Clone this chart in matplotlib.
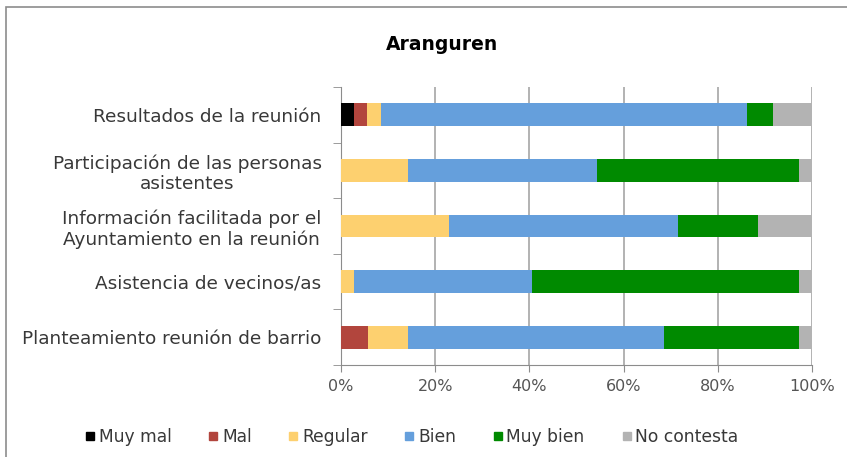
import matplotlib.pyplot as plt
from matplotlib.lines import Line2D
from matplotlib.patches import Rectangle
from matplotlib.ticker import PercentFormatter

# data (percent of answers), top to bottom as shown in the chart
categories = [
    'Resultados de la reunión',
    'Participación de las personas\nasistentes',
    'Información facilitada por el\nAyuntamiento en la reunión',
    'Asistencia de vecinos/as',
    'Planteamiento reunión de barrio',
]
series = ['Muy mal', 'Mal', 'Regular', 'Bien', 'Muy bien', 'No contesta']
muy_mal = [2.8, 0.0, 0.0, 0.0, 0.0]
mal = [2.8, 0.0, 0.0, 0.0, 5.7]
regular = [2.8, 14.3, 22.9, 2.7, 8.6]
bien = [77.8, 40.0, 48.6, 37.8, 54.3]
muy_bien = [5.5, 42.9, 17.1, 56.8, 28.6]
no_contesta = [8.3, 2.8, 11.4, 2.7, 2.8]
colors = ['#000000', '#b2453d', '#fdd06f', '#659fdc', '#008a00', '#b3b3b3']

W, H = 847, 457
fig = plt.figure(figsize=(W / 100, H / 100), dpi=100)
fig.patches.append(Rectangle((6 / W, -0.1), 1.2, 1 - 7 / H + 0.1, transform=fig.transFigure,
                             fill=False, edgecolor='#8c8c8c', linewidth=1.2))

ax = fig.add_axes([341 / W, 1 - 365 / H, 471 / W, 278 / H])
ypos = list(range(len(categories)))
left = [0.0] * len(categories)
for name, vals, c in zip(series, [muy_mal, mal, regular, bien, muy_bien, no_contesta], colors):
    ax.barh(ypos, vals, left=left, height=0.41, color=c, label=name, zorder=3)
    left = [l + v for l, v in zip(left, vals)]

ax.set_xlim(0, 100)
ax.set_ylim(4.5, -0.5)
ax.set_xticks([0, 20, 40, 60, 80, 100])
ax.xaxis.set_major_formatter(PercentFormatter(decimals=0))
ax.set_yticks(ypos)
ax.set_yticklabels(categories, fontsize=13.3, color='#383838', multialignment='center')
ax.set_yticks([-0.5, 0.5, 1.5, 2.5, 3.5, 4.5], minor=True)
ax.tick_params(axis='y', which='major', length=0, pad=14)
ax.tick_params(axis='y', which='minor', length=6, color='#8c8c8c', direction='out')
ax.tick_params(axis='x', length=5, color='#8c8c8c', labelsize=11.5, labelcolor='#555555', pad=5)
ax.grid(axis='x', color='#a6a6a6', linewidth=1.2, zorder=0)
for s in ['top', 'right']:
    ax.spines[s].set_visible(False)
for s in ['left', 'bottom']:
    ax.spines[s].set_color('#8c8c8c')

fig.text(442 / W, 1 - 44 / H, 'Aranguren', ha='center', va='center', fontsize=13.5, fontweight='bold')

handles = [Line2D([], [], marker='s', linestyle='', color=c, markersize=6) for c in colors]
fig.legend(handles, series, loc='center', bbox_to_anchor=(412 / W, 1 - 437 / H), ncol=6,
           frameon=False, fontsize=12.3, handlelength=0.5, handletextpad=0.25, columnspacing=2.2,
           labelcolor='#383838')

fig.savefig('out.png', dpi=100)
